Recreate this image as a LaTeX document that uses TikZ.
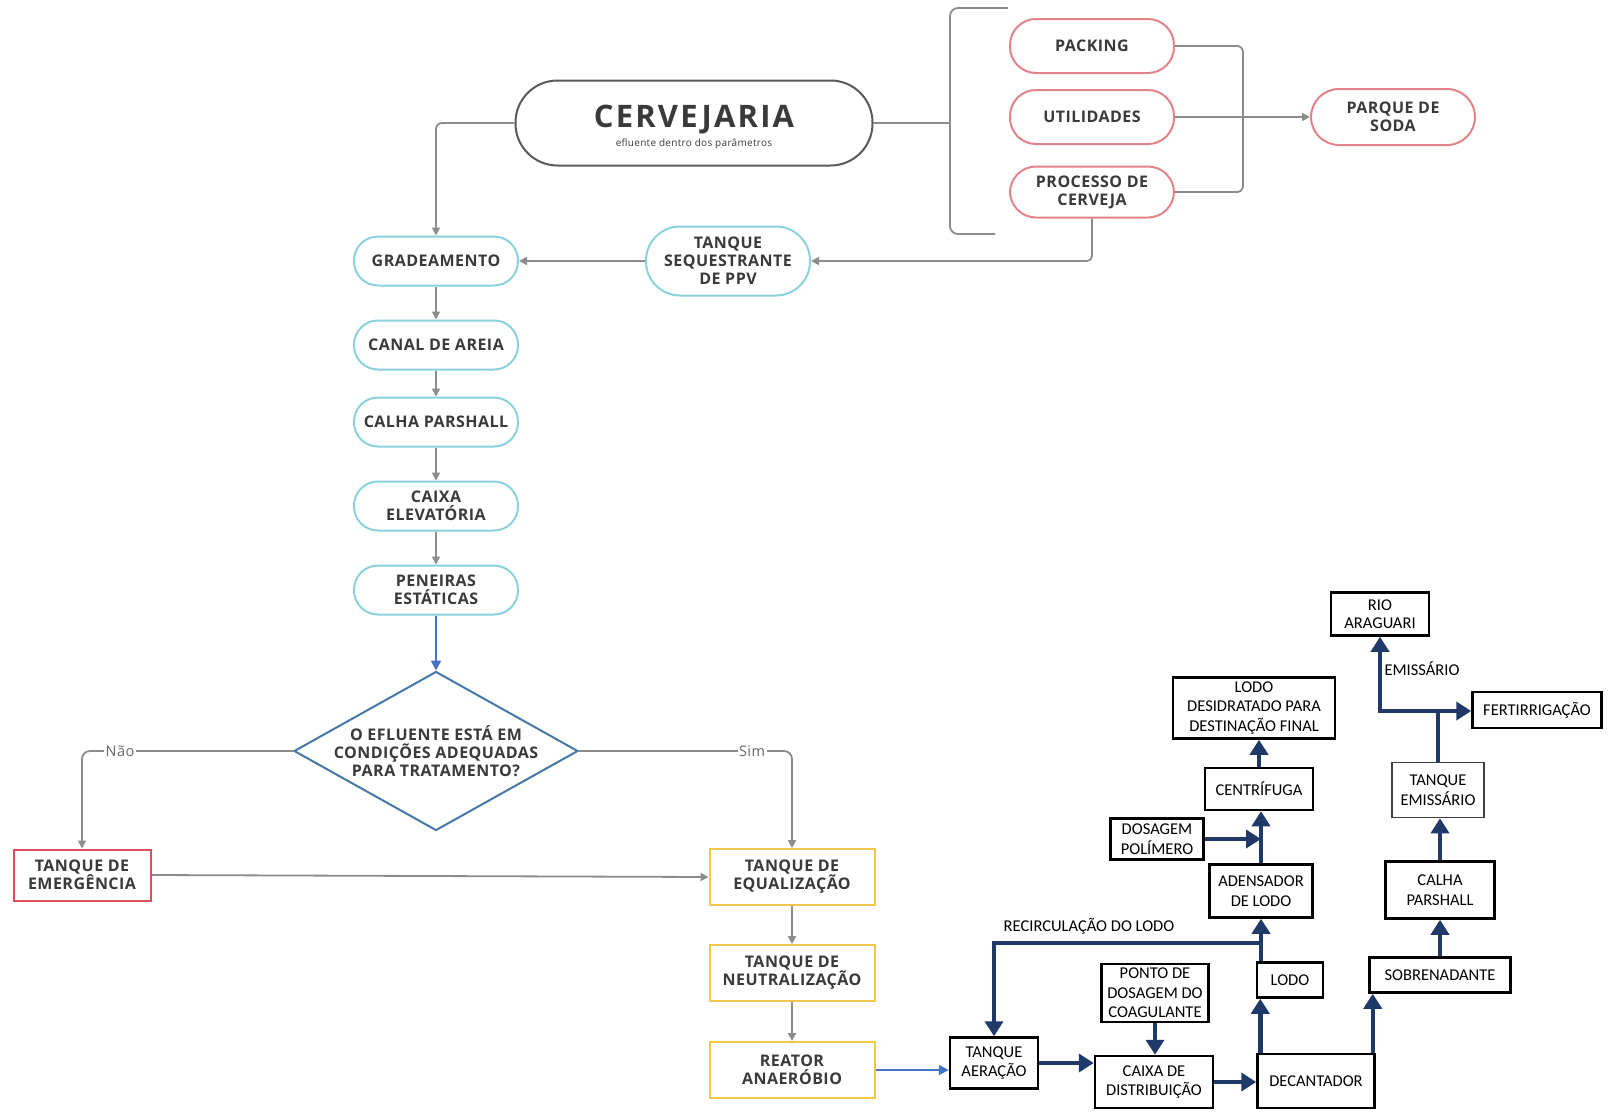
\documentclass[tikz,border=0pt]{standalone}
\usepackage{fontspec}
\setmainfont{Carlito}
\newfontfamily\topf{Open Sans}[LetterSpace=3]
\newfontfamily\cervf{Open Sans}[LetterSpace=7]
\definecolor{navyc}{RGB}{31,58,104}
\definecolor{greyc}{RGB}{140,140,140}
\definecolor{bluec}{RGB}{68,114,196}
\definecolor{pinkc}{RGB}{228,130,140}
\definecolor{tealc}{RGB}{140,210,222}
\definecolor{yelc}{RGB}{240,200,80}
\definecolor{redc}{RGB}{215,80,90}
\definecolor{diac}{RGB}{70,120,170}
\definecolor{cervc}{RGB}{90,90,90}
\definecolor{toptext}{RGB}{58,58,58}
\usetikzlibrary{arrows.meta,shapes.geometric,calc}
\newcommand\tfnt{\topf\bfseries\fontsize{16}{18}\selectfont}
\newcommand\bfnt{\fontsize{16.5}{19.5}\selectfont}
\begin{document}
\begin{tikzpicture}[x=1pt,y=-1pt,
  tealpill/.style={draw=tealc, line width=2pt, rounded corners=24pt, minimum width=164pt, minimum height=49pt, fill=white, font=\tfnt, text=toptext, align=center, inner sep=2pt},
  pinkpill/.style={draw=pinkc, line width=2pt, rounded corners=26pt, minimum width=164pt, minimum height=53pt, fill=white, font=\tfnt, text=toptext, align=center, inner sep=2pt},
  cervs/.style={draw=cervc, line width=2pt, rounded corners=42pt, minimum width=357pt, minimum height=85pt, fill=white, text=toptext, align=center, inner sep=2pt},
  ybox/.style={draw=yelc, line width=2pt, minimum width=165pt, minimum height=56pt, fill=white, font=\tfnt, text=toptext, align=center, inner sep=2pt},
  rbox/.style={draw=redc, line width=2pt, minimum width=137pt, minimum height=51pt, fill=white, font=\tfnt, text=toptext, align=center, inner sep=2pt},
  dia/.style={diamond, draw=diac, line width=2pt, minimum width=284pt, minimum height=159pt, inner sep=0pt, aspect=1.79, fill=white},
  bbox/.style={draw=black, line width=2.5pt, font=\bfnt, align=center, inner sep=2pt, fill=white},
  lbl/.style={fill=white, inner sep=1.5pt, font=\topf\fontsize{14.5}{16}\selectfont, text=black!60},
  tlbl/.style={inner sep=1pt, font=\bfnt},
  gline/.style={draw=greyc, line width=1.8pt},
  garrow/.style={gline, -{Triangle[length=8pt,width=8pt]}},
  barrow/.style={draw=bluec, line width=2pt, -{Triangle[length=10pt,width=10pt]}},
  nline/.style={draw=navyc, line width=4.5pt},
  narrow/.style={nline, -{Triangle[length=15pt,width=18pt]}}
]
\useasboundingbox (0,0) rectangle (1608,1112);
\fill[white] (0,0) rectangle (1608,1112);

% top part
\node[cervs, label={[align=center, text=toptext, yshift=-4pt]center:{{\cervf\bfseries\fontsize{31}{33}\selectfont CERVEJARIA}\\[3pt]{\topf\fontsize{10}{11}\selectfont efluente dentro dos parâmetros}}}] (cerv) at (694,123) {};
\node[pinkpill, minimum height=54pt] (pack) at (1092,46) {PACKING};
\node[pinkpill, minimum height=54pt] (util) at (1092,117) {UTILIDADES};
\node[pinkpill, minimum height=51pt] (proc) at (1092,192) {PROCESSO DE\\CERVEJA};
\node[pinkpill, minimum height=56pt, rounded corners=28pt] (soda) at (1393,117) {PARQUE DE\\SODA};
\node[tealpill, minimum height=69pt, rounded corners=34pt] (ts) at (728,261) {TANQUE\\SEQUESTRANTE\\DE PPV};
\node[tealpill] (grad) at (436,261) {GRADEAMENTO};
\node[tealpill] (canal) at (436,345) {CANAL DE AREIA};
\node[tealpill] (calha) at (436,422) {CALHA PARSHALL};
\node[tealpill] (caixa) at (436,506) {CAIXA\\ELEVATÓRIA};
\node[tealpill] (pen) at (436,590) {PENEIRAS\\ESTÁTICAS};
\node[dia, label={[font=\tfnt, text=toptext, align=center]center:{O EFLUENTE ESTÁ EM\\CONDIÇÕES ADEQUADAS\\PARA TRATAMENTO?}}] (dec) at (436,751) {};
\node[rbox] (emer) at (82,875) {TANQUE DE\\EMERGÊNCIA};
\node[ybox] (eq) at (792,877) {TANQUE DE\\EQUALIZAÇÃO};
\node[ybox] (neu) at (792,973) {TANQUE DE\\NEUTRALIZAÇÃO};
\node[ybox] (rea) at (792,1070) {REATOR\\ANAERÓBIO};

% bracket
\coordinate (bm) at (950,123);
\coordinate (bt) at (1008,8);
\coordinate (bb) at (995,234);
\draw[gline, rounded corners=8pt] (bt) -- (bt -| bm) -- (bb -| bm) -- (bb);
\draw[gline] (cerv.east) -- (bm);
\coordinate (jn) at (1243,117);
\draw[gline, rounded corners=6pt] (pack.east) -| (jn);
\draw[gline, rounded corners=6pt] (proc.east) -| (jn);
\draw[garrow] (util.east) -- (soda.west);
\draw[garrow, rounded corners=5pt] (proc.south) |- (ts.east);
\draw[garrow] (ts.west) -- (grad.east);
\draw[garrow, rounded corners=6pt] (cerv.west) -| (grad.north);
\draw[garrow] (grad.south) -- (canal.north);
\draw[garrow] (canal.south) -- (calha.north);
\draw[garrow] (calha.south) -- (caixa.north);
\draw[garrow] (caixa.south) -- (pen.north);
\draw[barrow] (pen.south) -- (dec.north);
\draw[garrow, rounded corners=8pt] (dec.west) -| (emer.north);
\node[lbl] (nao) at (120,751) {Não};
\draw[garrow, rounded corners=8pt] (dec.east) -| (eq.north);
\node[lbl] (sim) at (752,751) {Sim};
\draw[garrow] (emer.east) -- (eq.west);
\draw[garrow] (eq.south) -- (neu.north);
\draw[garrow] (neu.south) -- (rea.north);

% bottom right part
\node[bbox, minimum width=88pt, minimum height=51pt] (aer) at (994,1063) {TANQUE\\AERAÇÃO};
\node[bbox, minimum width=118pt, minimum height=52pt] (cxd) at (1154,1082) {CAIXA DE\\DISTRIBUIÇÃO};
\node[bbox, minimum width=107pt, minimum height=58pt] (ponto) at (1155,993) {PONTO DE\\DOSAGEM DO\\COAGULANTE};
\node[bbox, minimum width=117pt, minimum height=54pt] (decan) at (1316,1081) {DECANTADOR};
\node[bbox, minimum width=66pt, minimum height=35pt] (lodo) at (1290,980) {LODO};
\node[bbox, minimum width=141pt, minimum height=35pt] (sobre) at (1440,975) {SOBRENADANTE};
\node[bbox, minimum width=103pt, minimum height=53pt] (aden) at (1261,891) {ADENSADOR\\DE LODO};
\node[bbox, minimum width=93pt, minimum height=41pt] (dos) at (1157,839) {DOSAGEM\\POLÍMERO};
\node[bbox, minimum width=108pt, minimum height=42pt] (cent) at (1259,789) {CENTRÍFUGA};
\node[bbox, minimum width=162pt, minimum height=61pt] (lodod) at (1254,708) {LODO\\DESIDRATADO PARA\\DESTINAÇÃO FINAL};
\node[bbox, minimum width=98pt, minimum height=43pt, font=\fontsize{16.5}{17.5}\selectfont] (rio) at (1380,614) {RIO\\ARAGUARI};
\node[bbox, minimum width=129pt, minimum height=36pt] (fert) at (1537,710) {FERTIRRIGAÇÃO};
\node[bbox, draw=black!75, line width=1.6pt, minimum width=92pt, minimum height=55pt] (temi) at (1438,790) {TANQUE\\EMISSÁRIO};
\node[bbox, minimum width=109pt, minimum height=57pt] (calha2) at (1440,890) {CALHA\\PARSHALL};
\node[tlbl] (emlbl) at (1422,669) {EMISSÁRIO};
\node[tlbl] (reclbl) at (1089,926) {RECIRCULAÇÃO DO LODO};

\draw[barrow] (rea.east) -- (rea.east -| aer.west);
\draw[narrow] (aer.east) -- (aer.east -| cxd.west);
\draw[narrow] (ponto.south) -- (ponto.south |- cxd.north);
\draw[narrow] (cxd.east) -- (cxd.east -| decan.west);
\coordinate (dl) at ($(decan.north west)+(4,0)$);
\draw[narrow] (dl) -- (dl |- lodo.south);
\coordinate (ll) at (lodo.north -| aden.south);
\draw[narrow] (ll) -- (aden.south);
\coordinate (rj) at (aden.south |- 0,943);
\draw[narrow] (rj) -| (aer.north);
\coordinate (dr) at ($(decan.north east)+(-3,0)$);
\draw[narrow] (dr) -- (dr |- sobre.south);
\draw[narrow] (sobre.north) -- (sobre.north |- calha2.south);
\draw[narrow] (calha2.north) -- (calha2.north |- temi.south);
\coordinate (tj) at (temi.north |- 0,711);
\draw[nline] (temi.north) -- (tj);
\draw[narrow] ($(tj)+(2.25,0)$) -| (rio.south);
\draw[narrow] (tj) -- (tj -| fert.west);
\draw[narrow] (aden.north) -- (aden.north |- cent.south);
\draw[narrow] (dos.east) -- (dos.east -| aden.north);
\draw[narrow] (cent.north) -- (cent.north |- lodod.south);
\end{tikzpicture}
\end{document}
